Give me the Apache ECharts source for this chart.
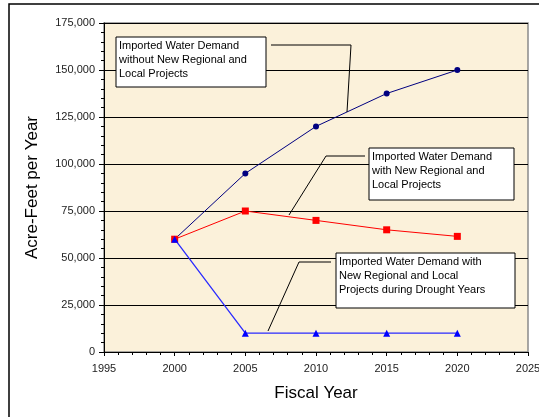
<!DOCTYPE html>
<html>
<head>
<meta charset="utf-8">
<script src="https://cdn.jsdelivr.net/npm/echarts@6/dist/echarts.min.js"></script>
<style>
  html, body { margin: 0; padding: 0; background: #fff; }
  #chart { width: 539px; height: 417px; }
</style>
</head>
<body>
<div id="chart"></div>
<script>
// Fiscal years and imported water demand (acre-feet per year)
const years = [2000, 2005, 2010, 2015, 2020];
const demandWithoutProjects = [60000, 95000, 120000, 137500, 150000];
const demandWithProjects = [60000, 75000, 70000, 65000, 61500];
const demandDroughtYears = [60000, 10000, 10000, 10000, 10000];

const seriesNames = [
  'Imported Water Demand\nwithout New Regional and\nLocal Projects',
  'Imported Water Demand\nwith New Regional and\nLocal Projects',
  'Imported Water Demand with\nNew Regional and Local\nProjects during Drought Years'
];

const pairs = (vals) => years.map((y, i) => [y, vals[i]]);

const chart = echarts.init(document.getElementById('chart'), null, { renderer: 'canvas' });

const FONT = 'Liberation Sans, Arial, sans-serif';

function callout(box, lines, leader) {
  return [
    {
      type: 'rect',
      shape: { x: box.x, y: box.y, width: box.w, height: box.h },
      style: { fill: '#ffffff', stroke: '#000000', lineWidth: 1 },
      z: 10
    },
    {
      type: 'text',
      x: box.x + 3,
      y: box.y + 2,
      style: {
        text: lines,
        font: '11px ' + FONT,
        fill: '#000000',
        lineHeight: 14,
        textVerticalAlign: 'top'
      },
      z: 11
    },
    {
      type: 'polyline',
      shape: { points: leader },
      style: { stroke: '#000000', lineWidth: 1, fill: null },
      z: 9
    }
  ];
}

chart.setOption({
  animation: false,
  backgroundColor: '#ffffff',
  grid: {
    left: 104, right: 11, top: 23, bottom: 65,
    outerBoundsMode: 'none',
    containLabel: false,
    show: true,
    backgroundColor: '#fbf1da',
    borderColor: '#8a8a8a',
    borderWidth: 1.5
  },
  xAxis: {
    type: 'value',
    min: 1995, max: 2025, interval: 5,
    name: 'Fiscal Year',
    nameLocation: 'middle',
    nameGap: 33,
    nameTextStyle: { fontFamily: FONT, fontSize: 17, color: '#000' },
    axisLine: { show: true, lineStyle: { color: '#000', width: 1 } },
    axisTick: { show: true, length: 4, lineStyle: { color: '#000' } },
    minorTick: { show: true, splitNumber: 5, length: 3, lineStyle: { color: '#000' } },
    splitLine: { show: false },
    axisLabel: {
      color: '#222', fontFamily: FONT, fontSize: 11, margin: 11,
      formatter: (v) => String(v)
    }
  },
  yAxis: {
    type: 'value',
    min: 0, max: 175000, interval: 25000,
    name: 'Acre-Feet per Year',
    nameLocation: 'middle',
    nameGap: 63,
    nameTextStyle: { fontFamily: FONT, fontSize: 17, color: '#000' },
    axisLine: { show: true, lineStyle: { color: '#000', width: 1 } },
    axisTick: { show: true, length: 5, lineStyle: { color: '#000' } },
    minorTick: { show: true, splitNumber: 5, length: 3, lineStyle: { color: '#000' } },
    splitLine: { show: true, lineStyle: { color: '#000', width: 1 } },
    axisLabel: {
      color: '#222', fontFamily: FONT, fontSize: 11, margin: 9,
      formatter: (v) => v.toLocaleString('en-US')
    }
  },
  series: [
    {
      name: seriesNames[0],
      type: 'line',
      data: pairs(demandWithoutProjects),
      symbol: 'circle', symbolSize: 6,
      lineStyle: { color: '#000080', width: 1 },
      itemStyle: { color: '#000080' },
      z: 3
    },
    {
      name: seriesNames[1],
      type: 'line',
      data: pairs(demandWithProjects),
      symbol: 'rect', symbolSize: 7,
      lineStyle: { color: '#ff0000', width: 1 },
      itemStyle: { color: '#ff0000' },
      z: 4
    },
    {
      name: seriesNames[2],
      type: 'line',
      data: pairs(demandDroughtYears),
      symbol: 'triangle', symbolSize: 7,
      lineStyle: { color: '#2a2aff', width: 1.3 },
      itemStyle: { color: '#0000ff' },
      z: 5
    }
  ],
  graphic: [
    // outer frame
    {
      type: 'rect',
      shape: { x: 9, y: 4, width: 600, height: 500 },
      style: { fill: null, stroke: '#000', lineWidth: 1.5 },
      silent: true
    },
    ...callout({ x: 116, y: 37, w: 150, h: 50 }, seriesNames[0],
      [[271, 45], [351, 45], [347, 112]]),
    ...callout({ x: 369, y: 148, w: 145, h: 52 }, seriesNames[1],
      [[365, 156], [326, 156], [289, 215]]),
    ...callout({ x: 336, y: 253, w: 179, h: 55 }, seriesNames[2],
      [[331, 262], [299, 262], [268, 331]])
  ]
});
</script>
</body>
</html>
